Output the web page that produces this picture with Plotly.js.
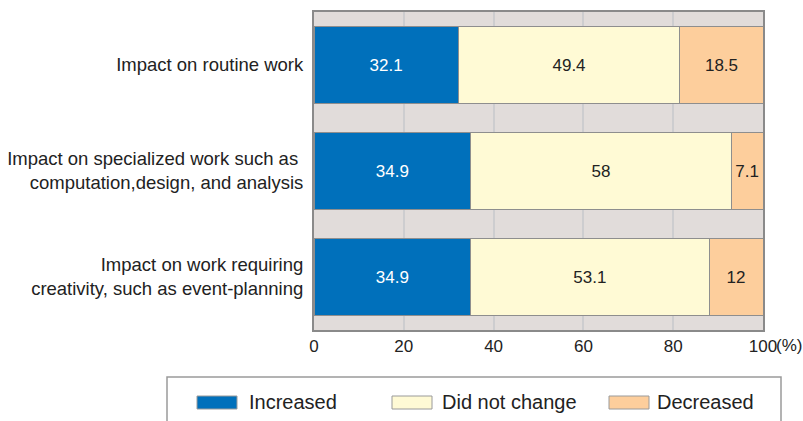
<!DOCTYPE html>
<html>
<head>
<meta charset="utf-8">
<script src="https://cdn.plot.ly/plotly-3.0.1.min.js"></script>
<style>html,body{margin:0;padding:0;background:#fff;}#chart{width:803px;height:421px;}</style>
</head>
<body>
<div id="chart"></div>
<script>
const categories = [
  "Impact on routine work",
  "Impact on specialized work such as\u00a0<br>computation,design, and analysis",
  "Impact on work requiring<br>creativity, such as event-planning"
];
const seriesNames = ["Increased", "Did not change", "Decreased"];
const increased = [32.1, 34.9, 34.9];
const unchanged = [49.4, 58, 53.1];
const decreased = [18.5, 7.1, 12];
const xTicks = [0, 20, 40, 60, 80, 100];
const xTickLabels = ["0", "20", "40", "60", "80", "100"];
const unitLabel = "(%)";

const colors = ["#0070bb", "#fffad5", "#fdce9c"];
const textColors = ["#ffffff", "#222222", "#222222"];
const seriesValues = [increased, unchanged, decreased];

const FONT = "Liberation Sans, Arial, Helvetica, sans-serif";

const traces = seriesValues.map((vals, i) => ({
  type: "bar",
  orientation: "h",
  name: seriesNames[i],
  y: categories,
  x: vals,
  text: vals.map(v => String(v)),
  textposition: "inside",
  insidetextanchor: "middle",
  textfont: {family: FONT, size: 17, color: textColors[i]},
  marker: {color: colors[i], line: {color: "#8e8e8e", width: 1}},
  hoverinfo: "skip",
  showlegend: false
}));

// plot area: x 314..763, y 12..330
const L = 314, R = 763, T = 12, B = 330;
const px = v => (v - L) / (R - L);
const py = v => (B - v) / (B - T);

const shapes = [
  {type: "rect", xref: "paper", yref: "paper", x0: px(167), x1: px(781), y0: py(377), y1: py(440),
   line: {color: "#9a9a9a", width: 1.5}, fillcolor: "rgba(0,0,0,0)", layer: "above"}
];
const annotations = [
  {xref: "x", yref: "paper", x: 100, y: py(345), text: unitLabel, showarrow: false,
   xanchor: "left", yanchor: "middle", xshift: 11, font: {family: FONT, size: 17, color: "#222"}}
];
const swatchX = [197, 392, 609];
const labelX = [247, 440, 655];
seriesNames.forEach((n, i) => {
  shapes.push({type: "rect", xref: "paper", yref: "paper",
    x0: px(swatchX[i]), x1: px(swatchX[i] + 40), y0: py(409), y1: py(396),
    fillcolor: colors[i], line: {color: "#9a9a9a", width: 1}, layer: "above"});
  annotations.push({xref: "paper", yref: "paper", x: px(labelX[i]), y: py(402), text: n,
    showarrow: false, xanchor: "left", yanchor: "middle",
    font: {family: FONT, size: 20, color: "#222"}});
});

const layout = {
  width: 803, height: 421,
  margin: {l: L, r: 803 - R, t: T, b: 421 - B, pad: 0},
  paper_bgcolor: "#ffffff",
  plot_bgcolor: "#e1dcda",
  barmode: "stack",
  bargap: 0.28,
  showlegend: false,
  font: {family: FONT, color: "#222"},
  xaxis: {
    range: [0, 100], tickvals: xTicks, ticktext: xTickLabels,
    showgrid: true, gridcolor: "#cdcdcf", gridwidth: 2,
    showline: true, linecolor: "#8a8a8a", linewidth: 2, mirror: true,
    ticks: "", zeroline: false,
    tickfont: {family: FONT, size: 17, color: "#222"}
  },
  yaxis: {
    type: "category", autorange: "reversed",
    showgrid: false, showline: true, linecolor: "#8a8a8a", linewidth: 2, mirror: true,
    ticks: "", ticklabelstandoff: 5,
    tickfont: {family: FONT, size: 18.5, color: "#222"}
  },
  shapes: shapes,
  annotations: annotations
};

Plotly.newPlot("chart", traces, layout, {displayModeBar: false, staticPlot: true});
</script>
</body>
</html>
